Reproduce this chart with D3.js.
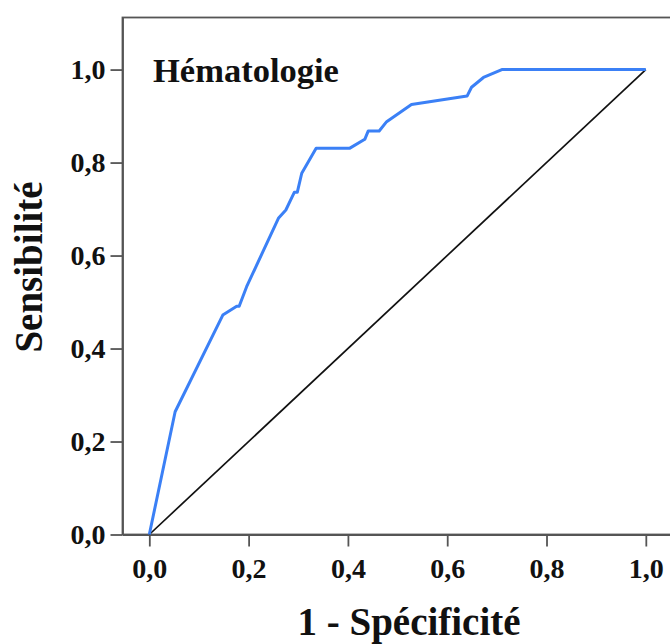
<!DOCTYPE html>
<html>
<head>
<meta charset="utf-8">
<script src="https://cdn.jsdelivr.net/npm/d3@7"></script>
<style>
  body { margin: 0; background: #fff; }
  text { font-family: "Liberation Serif", "Times New Roman", serif; font-weight: bold; fill: #111; }
</style>
</head>
<body>
<svg id="chart" width="670" height="644"></svg>
<script>
// courbe ROC - Hématologie
let fpr = [0, 0.052, 0.148, 0.176, 0.181, 0.196, 0.260, 0.275, 0.292, 0.298, 0.307, 0.336, 0.404, 0.434, 0.441, 0.463, 0.478, 0.528, 0.640, 0.649, 0.673, 0.710, 1.0]
let tpr = [0, 0.264, 0.472, 0.491, 0.491, 0.533, 0.680, 0.698, 0.736, 0.736, 0.777, 0.831, 0.831, 0.850, 0.868, 0.868, 0.888, 0.925, 0.943, 0.962, 0.983, 1.0, 1.0]
let refX = [0, 1]
let refY = [0, 1]
let xTicks = [0, 0.2, 0.4, 0.6, 0.8, 1.0]
let yTicks = [0, 0.2, 0.4, 0.6, 0.8, 1.0]
let panelTitle = 'Hématologie'
let xTitle = '1 - Spécificité'
let yTitle = 'Sensibilité'

let margin = { left: 122.5, top: 17.5 }
let frCA = d3.formatLocale({ decimal: ',', thousands: ' ', grouping: [3], currency: ['', ' €'] })
let fmt = frCA.format('.1f')

let svg = d3.select('#chart')

let xscale = d3.scaleLinear().domain([-0.054, 1.054]).range([margin.left, margin.left + 1.108 * 496.5])
let yscale = d3.scaleLinear().domain([0, 1.112]).range([534.5, margin.top])

// cadre
svg.append('rect')
    .attr('x', xscale(-0.054))
    .attr('y', yscale(1.112))
    .attr('width', xscale(1.054) - xscale(-0.054))
    .attr('height', yscale(0) - yscale(1.112))
    .style('fill', 'none')
    .style('stroke', '#555')
    .style('stroke-width', 1.8)

let xaxis = svg.append('g').attr('class', 'xaxis')
    .attr('transform', `translate(0,${yscale(0)})`)
    .call(d3.axisBottom(xscale).tickValues(xTicks).tickFormat(fmt).tickSizeInner(12).tickSizeOuter(0).tickPadding(11.5))

let yaxis = svg.append('g').attr('class', 'yaxis')
    .attr('transform', `translate(${xscale(-0.054)},0)`)
    .call(d3.axisLeft(yscale).tickValues(yTicks).tickFormat(fmt).tickSizeInner(12).tickSizeOuter(0).tickPadding(5))

svg.selectAll('.xaxis, .yaxis').selectAll('path, line')
    .style('stroke', '#555')
    .style('stroke-width', 1.8)
svg.selectAll('.xaxis, .yaxis').selectAll('text')
    .style('font-family', '"Liberation Serif", serif')
    .style('font-weight', 'bold')
    .style('font-size', '28px')
    .style('fill', '#111')

// diagonale de référence
let line = d3.line()
    .x(d => xscale(d[0]))
    .y(d => yscale(d[1]))

svg.append('path')
    .attr('d', line(d3.zip(refX, refY)))
    .style('stroke', '#111')
    .style('stroke-width', 1.7)
    .style('fill', 'none')

svg.append('path')
    .attr('d', line(d3.zip(fpr, tpr)))
    .style('stroke', '#3b80f6')
    .style('stroke-width', 3)
    .style('stroke-linejoin', 'round')
    .style('fill', 'none')

svg.append('text')
    .attr('x', 153)
    .attr('y', 82)
    .style('font-size', '34.5px')
    .text(panelTitle)

svg.append('text')
    .attr('x', 409)
    .attr('y', 635)
    .attr('text-anchor', 'middle')
    .style('font-size', '39px')
    .text(xTitle)

svg.append('text')
    .attr('transform', `translate(42,267) rotate(-90)`)
    .attr('text-anchor', 'middle')
    .style('font-size', '39px')
    .text(yTitle)
</script>
</body>
</html>
